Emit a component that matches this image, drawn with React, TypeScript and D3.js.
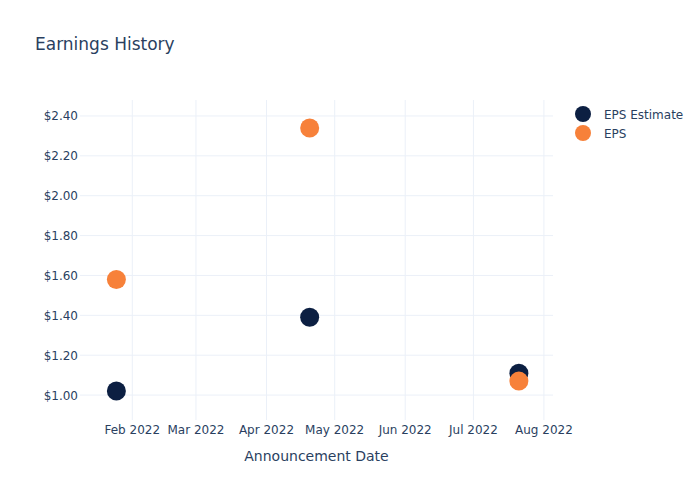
import { useEffect, useRef } from "react";
import * as d3 from "d3";

// announcement dates and values
const dates: string[] = ["2022-01-25", "2022-04-20", "2022-07-21"];
const epsEstimate: number[] = [1.02, 1.39, 1.11];
const eps: number[] = [1.58, 2.34, 1.07];

const seriesNames: string[] = ["EPS Estimate", "EPS"];
const seriesColors: string[] = ["#0c1f42", "#f7813a"];

const yTicks: number[] = [1.0, 1.2, 1.4, 1.6, 1.8, 2.0, 2.2, 2.4];
const xTicks: string[] = [
  "2022-02-01",
  "2022-03-01",
  "2022-04-01",
  "2022-05-01",
  "2022-06-01",
  "2022-07-01",
  "2022-08-01",
];

const WIDTH = 700;
const HEIGHT = 500;
const margin = { top: 100, right: 147, bottom: 80, left: 80 };
const textColor = "#2a3f5f";
const gridColor = "#ebf0f8";
const font = "'DejaVu Sans', 'Open Sans', sans-serif";

const App = () => {
  const svgRef = useRef<SVGSVGElement | null>(null);

  useEffect(() => {
    const svg = d3.select(svgRef.current);
    svg.selectAll("*").remove();

    const innerW = WIDTH - margin.left - margin.right;
    const innerH = HEIGHT - margin.top - margin.bottom;

    const parse = d3.timeParse("%Y-%m-%d");
    const xScale = d3
      .scaleTime()
      .domain([parse("2022-01-09") as Date, parse("2022-08-05") as Date])
      .range([0, innerW]);
    const yScale = d3.scaleLinear().domain([0.875, 2.48]).range([innerH, 0]);

    const g = svg
      .append("g")
      .attr("transform", `translate(${margin.left}, ${margin.top})`);

    // grid lines
    g.selectAll(".xgrid")
      .data(xTicks)
      .enter()
      .append("line")
      .attr("x1", (d) => xScale(parse(d) as Date))
      .attr("x2", (d) => xScale(parse(d) as Date))
      .attr("y1", 0)
      .attr("y2", innerH)
      .attr("stroke", gridColor)
      .attr("stroke-width", 1);

    g.selectAll(".ygrid")
      .data(yTicks)
      .enter()
      .append("line")
      .attr("x1", 0)
      .attr("x2", innerW)
      .attr("y1", (d) => yScale(d))
      .attr("y2", (d) => yScale(d))
      .attr("stroke", gridColor)
      .attr("stroke-width", 1);

    // tick labels
    const fmtDate = d3.timeFormat("%b %Y");
    g.selectAll(".xlabel")
      .data(xTicks)
      .enter()
      .append("text")
      .attr("x", (d) => xScale(parse(d) as Date))
      .attr("y", innerH + 14)
      .attr("text-anchor", "middle")
      .attr("fill", textColor)
      .style("font-family", font)
      .style("font-size", "12px")
      .text((d) => fmtDate(parse(d) as Date));

    g.selectAll(".ylabel")
      .data(yTicks)
      .enter()
      .append("text")
      .attr("x", -2)
      .attr("y", (d) => yScale(d) + 4.5)
      .attr("text-anchor", "end")
      .attr("fill", textColor)
      .style("font-family", font)
      .style("font-size", "12px")
      .text((d) => `$${d.toFixed(2)}`);

    // markers
    const series = [epsEstimate, eps];
    series.forEach((values, i) => {
      g.selectAll(`.pt-${i}`)
        .data(values)
        .enter()
        .append("circle")
        .attr("cx", (_d, j) => xScale(parse(dates[j]) as Date))
        .attr("cy", (d) => yScale(d))
        .attr("r", 9.5)
        .attr("fill", seriesColors[i]);
    });

    // title
    svg
      .append("text")
      .attr("x", 35)
      .attr("y", 50)
      .attr("fill", textColor)
      .style("font-family", font)
      .style("font-size", "17px")
      .text("Earnings History");

    // axis title
    svg
      .append("text")
      .attr("x", margin.left + innerW / 2)
      .attr("y", 461)
      .attr("text-anchor", "middle")
      .attr("fill", textColor)
      .style("font-family", font)
      .style("font-size", "14px")
      .text("Announcement Date");

    // legend
    seriesNames.forEach((name, i) => {
      const ly = 114 + i * 19;
      svg
        .append("circle")
        .attr("cx", 583)
        .attr("cy", ly)
        .attr("r", 8)
        .attr("fill", seriesColors[i]);
      svg
        .append("text")
        .attr("x", 604)
        .attr("y", ly + 4.5)
        .attr("fill", textColor)
        .style("font-family", font)
        .style("font-size", "12px")
        .text(name);
    });
  }, []);

  return (
    <svg
      ref={svgRef}
      width={WIDTH}
      height={HEIGHT}
      style={{ position: "absolute", left: 0, top: 0, background: "#fff" }}
    />
  );
};

export default App;
